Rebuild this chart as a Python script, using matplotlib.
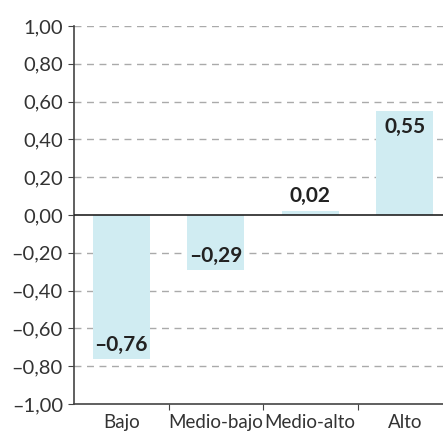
import matplotlib.pyplot as plt

categorias = ['Bajo', 'Medio-bajo', 'Medio-alto', 'Alto']
valores = [-0.76, -0.29, 0.02, 0.55]
yticks = [-1.0, -0.8, -0.6, -0.4, -0.2, 0.0, 0.2, 0.4, 0.6, 0.8, 1.0]

plt.rcParams['font.family'] = ['Lato', 'DejaVu Sans']


def fmt(v):
    s = f'{abs(v):.2f}'.replace('.', ',')
    return ('\u2013' + s) if v < 0 else s


fig = plt.figure(figsize=(4.43, 4.36), dpi=100)
# el eje se sale un poco por la derecha, como en el original
ax = fig.add_axes([74 / 443, 32 / 436, 378 / 443, 378 / 436])

x = list(range(len(categorias)))
ax.bar(x, valores, width=0.6, color='#d0ecf2', zorder=2)

for yt in yticks:
    if yt == 0 or yt == -1.0:
        continue
    ax.axhline(yt, color='#aaaaaa', lw=1, ls=(0, (5, 4)), zorder=1)
ax.axhline(0, color='#222222', lw=1.2, zorder=3)

for xi, v in zip(x, valores):
    if abs(v) < 0.1:
        ax.annotate(fmt(v), (xi, v), xytext=(0, 4), textcoords='offset points',
                    ha='center', va='bottom', fontsize=15, fontweight='bold',
                    color='#222222', zorder=4)
    elif v > 0:
        ax.annotate(fmt(v), (xi, v), xytext=(0, -4), textcoords='offset points',
                    ha='center', va='top', fontsize=15, fontweight='bold',
                    color='#222222', zorder=4)
    else:
        ax.annotate(fmt(v), (xi, v), xytext=(0, 3), textcoords='offset points',
                    ha='center', va='bottom', fontsize=15, fontweight='bold',
                    color='#222222', zorder=4)

ax.set_xlim(-0.5, len(categorias) - 0.5)
ax.set_ylim(-1.0, 1.0)
ax.set_yticks(yticks)
ax.set_yticklabels([fmt(t) for t in yticks])
ax.set_xticks([i + 0.5 for i in range(len(categorias) - 1)])
ax.set_xticklabels([])
ax.set_xticks(x, minor=True)
ax.set_xticklabels(categorias, minor=True)
ax.tick_params(axis='x', which='major', length=4, color='#444444')
ax.tick_params(axis='x', which='minor', length=0, pad=7, labelsize=13.5, labelcolor='#333333')
ax.tick_params(axis='y', length=4, color='#444444', labelsize=14.5, labelcolor='#333333', pad=4)

for s in ['top', 'right']:
    ax.spines[s].set_visible(False)
for s in ['left', 'bottom']:
    ax.spines[s].set_color('#444444')
    ax.spines[s].set_linewidth(1.2)

fig.savefig('out.png', dpi=100)
